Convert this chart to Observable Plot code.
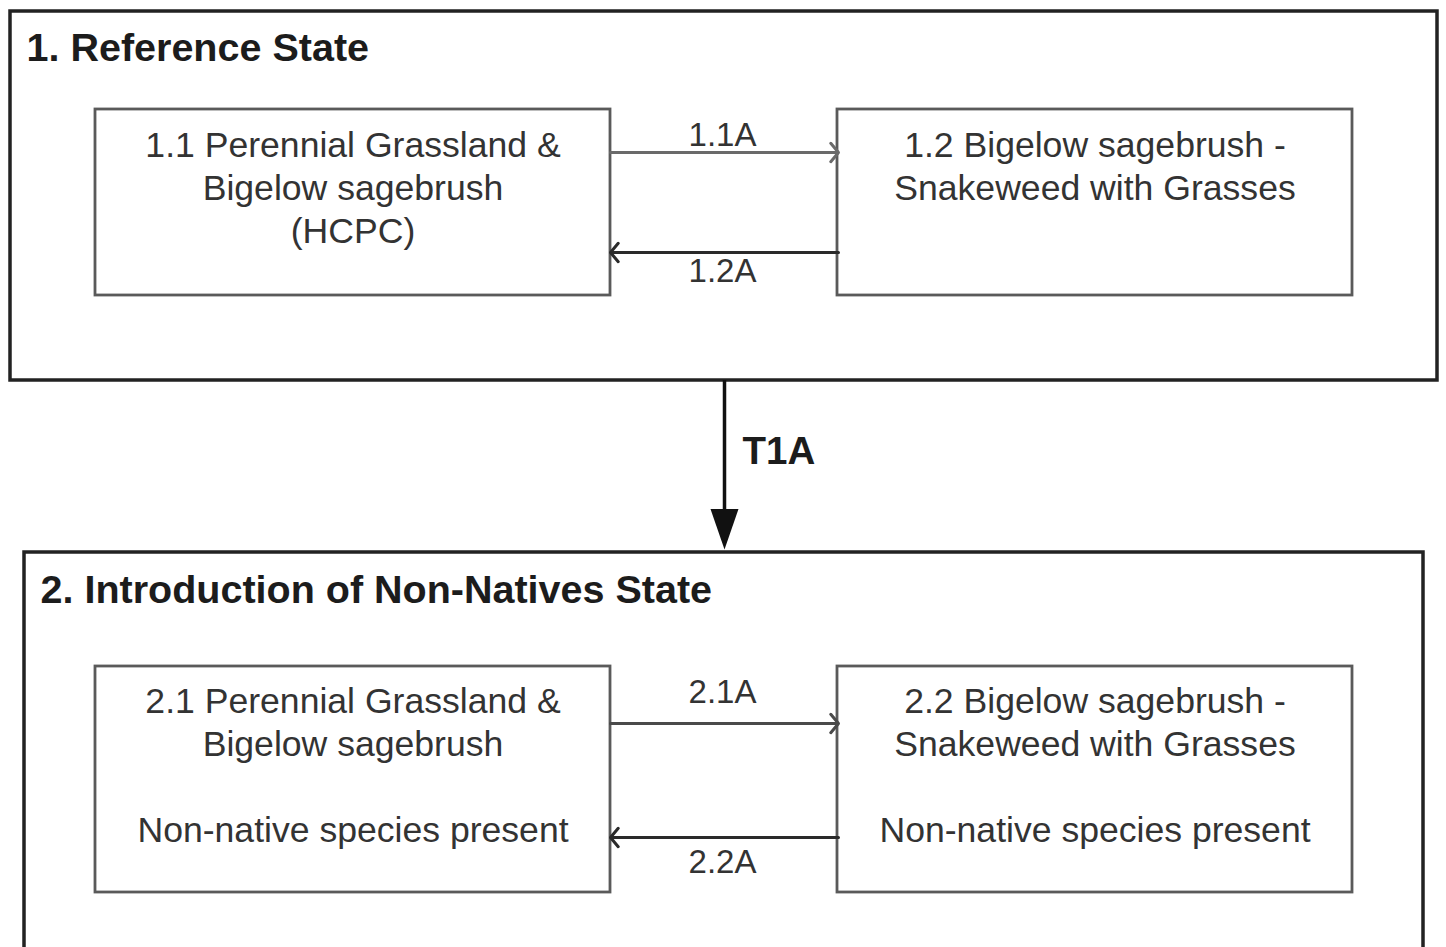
<!DOCTYPE html>
<html>
<head>
<meta charset="utf-8">
<script src="https://cdn.jsdelivr.net/npm/d3@7"></script>
<script src="https://cdn.jsdelivr.net/npm/@observablehq/plot@0.6"></script>
<style>
  html, body { margin: 0; padding: 0; background: #fff; overflow: hidden; }
  #chart svg { display: block; }
</style>
</head>
<body>
<div id="chart"></div>
<script>
// ---- Data (diagram layout in pixel units of a 1446 x 947 canvas) ----
const stateNames = ["1. Reference State", "2. Introduction of Non-Natives State"];
const stateX1 = [10, 24];
const stateX2 = [1437, 1423];
const stateY1 = [11, 552];
const stateY2 = [380, 952];
const stateLabelX = [26, 40];
const stateLabelY = [48, 590];

const communityLabels = [
  "1.1 Perennial Grassland &\nBigelow sagebrush\n(HCPC)",
  "1.2 Bigelow sagebrush -\nSnakeweed with Grasses",
  "2.1 Perennial Grassland &\nBigelow sagebrush\n\nNon-native species present",
  "2.2 Bigelow sagebrush -\nSnakeweed with Grasses\n\nNon-native species present"
];
const communityX1 = [95, 837, 95, 837];
const communityX2 = [610, 1352, 610, 1352];
const communityY1 = [109, 109, 666, 666];
const communityY2 = [295, 295, 892, 892];
const communityTextY = [186, 164.5, 763, 763];

const pathwayLabels = ["1.1A", "1.2A", "2.1A", "2.2A"];
const pathwayFromX = [610, 838, 610, 838];
const pathwayToX = [838, 610, 838, 610];
const pathwayY = [152, 252, 723, 837];
const pathwayLabelY = [135, 271, 692, 862];
const pathwayStroke = ["#6a6a6a", "#2a2a2a", "#4a4a4a", "#2a2a2a"];

const transitionLabel = ["T1A"];
const transitionX = [724];
const transitionFromY = [380];
const transitionToY = [549];
const transitionLabelX = [742];
const transitionLabelY = [451];

// ---- Build tables ----
const states = stateNames.map((name, i) => ({name, x1: stateX1[i], x2: stateX2[i], y1: stateY1[i], y2: stateY2[i], lx: stateLabelX[i], ly: stateLabelY[i]}));
const communities = communityLabels.map((label, i) => ({label, x1: communityX1[i], x2: communityX2[i], y1: communityY1[i], y2: communityY2[i], ty: communityTextY[i]}));
const pathways = pathwayLabels.map((label, i) => ({label, x1: pathwayFromX[i], x2: pathwayToX[i], y: pathwayY[i], ly: pathwayLabelY[i], stroke: pathwayStroke[i]}));
const transitions = transitionLabel.map((label, i) => ({label, x: transitionX[i], y1: transitionFromY[i], y2: transitionToY[i], lx: transitionLabelX[i], ly: transitionLabelY[i]}));

const downTriangle = {
  draw(ctx, size) {
    const r = Math.sqrt(size / Math.PI);
    ctx.moveTo(0, 0);
    ctx.lineTo(-r, -2.9 * r);
    ctx.lineTo(r, -2.9 * r);
    ctx.closePath();
  }
};

const font = "'Liberation Sans', Arial, Helvetica, sans-serif";

const chart = Plot.plot({
  width: 1446,
  height: 947,
  margin: 0,
  x: {domain: [0, 1446], range: [0, 1446], axis: null},
  y: {domain: [0, 947], range: [0, 947], axis: null},
  style: {fontFamily: font, background: "#fff"},
  marks: [
    // state boxes
    Plot.rect(states, {x1: "x1", x2: "x2", y1: "y1", y2: "y2", fill: "none", stroke: "#222", strokeWidth: 3.5}),
    Plot.text(states, {x: "lx", y: "ly", text: "name", textAnchor: "start", lineAnchor: "middle", fontSize: 39.5, fontWeight: "bold", fill: "#1c1c1c"}),
    // community boxes
    Plot.rect(communities, {x1: "x1", x2: "x2", y1: "y1", y2: "y2", fill: "#fff", stroke: "#5a5a5a", strokeWidth: 2.8}),
    Plot.text(communities, {x: d => (d.x1 + d.x2) / 2, y: "ty", text: "label", textAnchor: "middle", lineAnchor: "middle", lineHeight: 43 / 35.6, fontSize: 35.6, fill: "#333"}),
    // community pathways
    Plot.arrow(pathways, {x1: "x1", x2: "x2", y1: "y", y2: "y", stroke: "stroke", strokeWidth: 3, headLength: 6, headAngle: 100}),
    Plot.text(pathways, {x: 722, y: "ly", text: "label", textAnchor: "middle", lineAnchor: "middle", fontSize: 33, fill: "#333"}),
    // transition
    Plot.ruleX(transitions, {x: "x", y1: "y1", y2: d => d.y2 - 30, stroke: "#111", strokeWidth: 3.5}),
    Plot.dot(transitions, {x: "x", y: "y2", r: 14, symbol: downTriangle, fill: "#111", stroke: "none"}),
    Plot.text(transitions, {x: "lx", y: "ly", text: "label", textAnchor: "start", lineAnchor: "middle", fontSize: 38.5, fontWeight: "bold", fill: "#1c1c1c"})
  ]
});

document.getElementById("chart").appendChild(chart);
</script>
</body>
</html>
